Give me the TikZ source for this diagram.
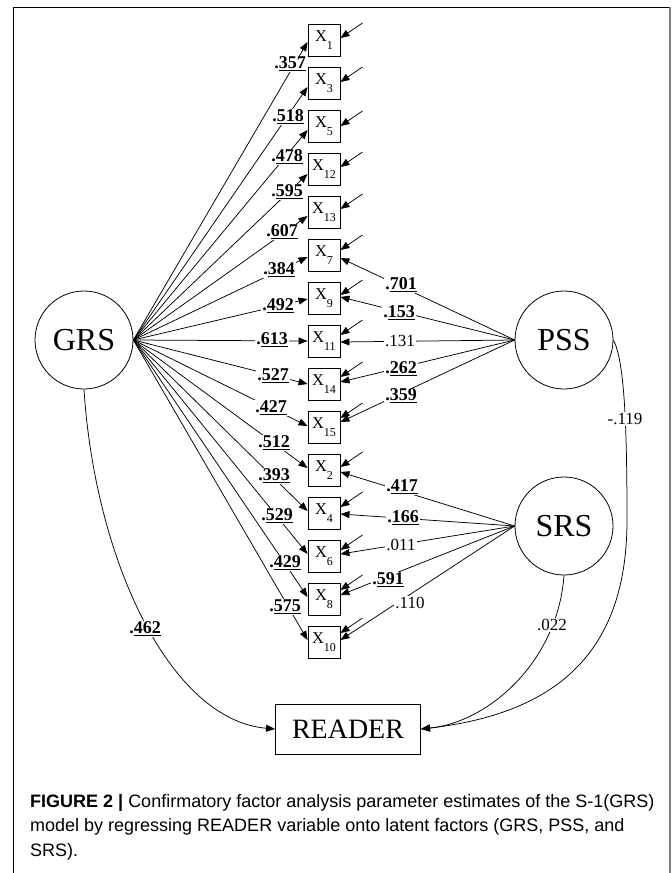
\documentclass[tikz,border=0pt]{standalone}
\usepackage{fontspec}
\setmainfont{Liberation Serif}
\newfontfamily\capfont{Liberation Sans}
\usetikzlibrary{arrows.meta,calc}

% indicator label: X with a deeply lowered index
\newcommand\xv[1]{X\raisebox{-8.5pt}{\fontsize{12}{12}\selectfont#1}}

\begin{document}
\begin{tikzpicture}[x=1pt,y=-1pt,
  every node/.style={inner sep=0pt},
  obs/.style={draw, line width=0.9pt, minimum width=32pt, minimum height=32pt,
    font=\fontsize{16.5}{16.5}\selectfont},
  latent/.style={draw, circle, line width=0.8pt, minimum size=98pt,
    font=\fontsize{32}{32}\selectfont},
  link/.style={line width=0.75pt, -{Triangle[length=9pt,width=7pt]}},
  ld/.style={fill=white, inner sep=1pt, font=\fontsize{18}{18}\selectfont\bfseries},
  lw/.style={fill=white, inner sep=1pt, font=\fontsize{17}{17}\selectfont},
  capline/.style={anchor=base west, font=\capfont\fontsize{18}{18}\selectfont},
]
\useasboundingbox (0,0) rectangle (672,873);

% frame
\draw[line width=1pt] (13,873) -- (13,7) -- (670,7);
\draw[gray, line width=1.6pt] (670,7) -- (670,873);

% latent factors and outcome
\node[latent] (GRS) at (84,340) {GRS};
\node[latent] (PSS) at (564,340) {PSS};
\node[latent] (SRS) at (564,526) {SRS};
\node[draw, line width=0.9pt, minimum width=145pt, minimum height=50pt,
  font=\fontsize{28}{28}\selectfont] (READER) at (348,729) {READER};

% indicator column
\foreach \n [count=\i from 0] in {1,3,5,12,13,7,9,11,14,15,2,4,6,8,10}
  \node[obs] (x\n) at (324,40+43*\i) {\xv{\n}};

% residual arrows
\foreach \n/\d in {1/-2,3/-1,5/0,12/-2,13/-3,7/-5,9/-3,11/-6,14/-7,15/-9,2/-3,4/-6,6/-6,8/-9,10/-9}
  \draw[link] ($(x\n.east)+(22,\d-15)$) -- ($(x\n.east)+(0,\d)$);

% general factor loadings
\foreach \n/\d in {1/2,3/4,5/4,12/5,13/4,7/2,9/1,11/0,14/0,15/-1,2/-2,4/-2,6/-2,8/-2,10/-2}
  \draw[link] (GRS.east) -- ($(x\n.west)+(0,\d)$);

% specific factor loadings
\foreach \n/\d in {7/3,9/-1,11/1,14/-2,15/-5}
  \draw[link] (PSS.west) -- ($(x\n.east)+(0,\d)$);
\foreach \n/\d in {2/2,4/1,6/-2,8/-4,10/-2}
  \draw[link] (SRS.west) -- ($(x\n.east)+(0,\d)$);

% regressions on READER
\draw[link] (GRS.south) .. controls (95,560) and (170,720) .. (READER.west);
\draw[link] (SRS.south) .. controls (558,660) and (490,722) .. (READER.east);
\draw[link] (PSS.east) .. controls (624,360) and (627,420) .. (627,520)
  .. controls (627,640) and (570,712) .. (READER.east);

% loading estimates
\foreach \n/\lx/\ly/\v in {1/290/64/357,3/288/117/518,5/287/157/478,12/287/192/595,
  13/282/232/607,7/279/270/384,9/278/306/492,11/272/340/613,14/273/376/527,
  15/271/408/427,2/274/443/512,4/274/476/393,6/277/516/529,8/285/563/429,10/285/607/575}
  \node[ld] (g\n) at (\lx,\ly) {.\underline{\v}};
\foreach \n/\lx/\ly/\v in {7/401/285/701,9/399/313/153,14/401/369/262,15/401/396/359,
  2/402/487/417,4/403/518/166,8/388/580/591}
  \node[ld] (s\n) at (\lx,\ly) {.\underline{\v}};
\node[lw] (s11) at (400,341) {.131};
\node[lw] (s6) at (401,545) {.011};
\node[lw] (s10) at (410,603) {.110};
\node[ld] (rg) at (145,629) {.\underline{462}};
\node[lw] (rs) at (552,625) {.022};
\node[lw] (rp) at (625,419) {-.119};

% caption
\node[capline] (cap1) at (30,807) {\textbf{FIGURE 2 |} Confirmatory factor analysis parameter estimates of the S-1(GRS)};
\node[capline] (cap2) at (30,831.5) {model by regressing READER variable onto latent factors (GRS, PSS, and};
\node[capline] (cap3) at (30,856) {SRS).};
\end{tikzpicture}
\end{document}
